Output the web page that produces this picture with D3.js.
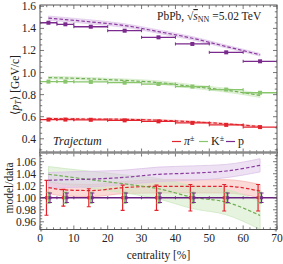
<!DOCTYPE html>
<html><head><meta charset="utf-8">
<script src="https://cdn.jsdelivr.net/npm/d3@7"></script>
<style>body{margin:0;background:#fff}svg{display:block}text{font-family:"Liberation Serif","DejaVu Serif",serif;fill:#222}</style>
</head><body><svg id="c" width="283" height="264"></svg>
<script>
// ---- data ----
const binLo = [0, 5, 10, 20, 30, 40, 50, 60];
const binHi = [5, 10, 20, 30, 40, 50, 60, 70];
const centers = [2.5, 7.5, 15, 25, 35, 45, 55, 65];
const pionData   = [0.574, 0.574, 0.572, 0.567, 0.558, 0.544, 0.526, 0.506];
const kaonData   = [0.918, 0.918, 0.915, 0.908, 0.896, 0.873, 0.846, 0.817];
const protonData = [1.451, 1.437, 1.415, 1.379, 1.319, 1.259, 1.183, 1.102];
const pionRatio   = [1.017, 1.013, 1.012, 1.017, 1.019, 1.019, 1.019, 1.011];
const kaonRatio   = [1.039, 1.0355, 1.030, 1.023, 1.015, 1.001, 0.9927, 0.9705];
const protonRatio = [1.029, 1.030, 1.031, 1.034, 1.039, 1.041, 1.0445, 1.054];
const pionBand   = [0.010, 0.010, 0.010, 0.010, 0.011, 0.011, 0.011, 0.011];
const kaonBand   = [0.013, 0.013, 0.014, 0.015, 0.017, 0.019, 0.021, 0.023];
const protonBand = [0.013, 0.013, 0.013, 0.012, 0.012, 0.012, 0.011, 0.011];
const pionErr   = [0.029, 0.014, 0.015, 0.021, 0.021, 0.022, 0.022, 0.022];
const kaonErr   = [0.009, 0.009, 0.009, 0.009, 0.009, 0.009, 0.009, 0.009];
const protonErr = [0.008, 0.008, 0.008, 0.008, 0.008, 0.008, 0.008, 0.008];
const xTicks = [0, 10, 20, 30, 40, 50, 60, 70];
const yTopTicks = [0.4, 0.6, 0.8, 1.0, 1.2, 1.4, 1.6];
const yBotTicks = [0.96, 0.98, 1.00, 1.02, 1.04, 1.06];
const seriesNames = ["π", "K", "p"];
const seriesSup = ["±", "±", ""];

const species = [
  {name: seriesNames[0], sup: seriesSup[0], data: pionData, ratio: pionRatio, band: pionBand, err: pionErr,
   col: "#e3232c", bandCol: "#f5b4b0", dash: "#e02530", dx: -2},
  {name: seriesNames[1], sup: seriesSup[1], data: kaonData, ratio: kaonRatio, band: kaonBand, err: kaonErr,
   col: "#88c56c", bandCol: "#cde8c0", dash: "#6fae52", dx: 0},
  {name: seriesNames[2], sup: seriesSup[2], data: protonData, ratio: protonRatio, band: protonBand, err: protonErr,
   col: "#7a2a8c", bandCol: "#dcc3e7", dash: "#8a3a9e", dx: 1.5}
];

const svg = d3.select("#c");
const L = 40, R = 277, T1 = 5, B1 = 152.5, T2 = 152.5, B2 = 229.5;
const x = d3.scaleLinear().domain([0, 70]).range([L, R]);
const yT = d3.scaleLinear().domain([0.4, 1.6]).range([138.8, 6.3]);
const yB = d3.scaleLinear().domain([0.96, 1.06]).range([221.8, 161.7]);

const defs = svg.append("defs");
defs.append("clipPath").attr("id", "cpT").append("rect").attr("x", L).attr("y", T1).attr("width", R - L).attr("height", B1 - T1);
defs.append("clipPath").attr("id", "cpB").append("rect").attr("x", L).attr("y", T2).attr("width", R - L).attr("height", B2 - T2);

const gT = svg.append("g").attr("clip-path", "url(#cpT)");
const gB = svg.append("g").attr("clip-path", "url(#cpB)");
const idx = d3.range(centers.length);
const curve = d3.curveMonotoneX;

// ---- top panel: model bands + dashed lines ----
species.forEach(s => {
  const area = d3.area().curve(curve).x(i => x(centers[i]))
    .y0(i => yT(s.data[i] * (s.ratio[i] - s.band[i])))
    .y1(i => yT(s.data[i] * (s.ratio[i] + s.band[i])));
  gT.append("path").attr("d", area(idx)).attr("fill", s.bandCol).attr("fill-opacity", 0.6)
    .attr("stroke", s.bandCol).attr("stroke-width", 0.6);
  const line = d3.line().curve(curve).x(i => x(centers[i])).y(i => yT(s.data[i] * s.ratio[i]));
  gT.append("path").attr("d", line(idx)).attr("fill", "none").attr("stroke", s.dash)
    .attr("stroke-width", 1.2).attr("stroke-dasharray", "3.5,2");
});
// data points
species.forEach(s => {
  idx.forEach(i => {
    const yy = yT(s.data[i]);
    gT.append("line").attr("x1", x(binLo[i])).attr("x2", x(binHi[i])).attr("y1", yy).attr("y2", yy)
      .attr("stroke", s.col).attr("stroke-width", 1.3);
    [binLo[i], binHi[i]].forEach(b => gT.append("line").attr("x1", x(b)).attr("x2", x(b))
      .attr("y1", yy - 1.5).attr("y2", yy + 1.5).attr("stroke", s.col).attr("stroke-width", 1));
    gT.append("rect").attr("x", x(centers[i]) - 2).attr("y", yy - 2).attr("width", 4).attr("height", 4).attr("fill", s.col);
  });
});

// ---- bottom panel ----
species.forEach(s => {
  const area = d3.area().curve(curve).x(i => x(centers[i]))
    .y0(i => yB(s.ratio[i] - s.band[i])).y1(i => yB(s.ratio[i] + s.band[i]));
  gB.append("path").attr("d", area(idx)).attr("fill", s.bandCol).attr("fill-opacity", 0.5)
    .attr("stroke", s.bandCol).attr("stroke-width", 0.8);
});
species.forEach(s => {
  const line = d3.line().curve(curve).x(i => x(centers[i])).y(i => yB(s.ratio[i]));
  gB.append("path").attr("d", line(idx)).attr("fill", "none").attr("stroke", s.dash)
    .attr("stroke-width", 1.2).attr("stroke-dasharray", "3.5,2");
});
// unity line with bin edge caps
gB.append("line").attr("x1", x(0)).attr("x2", x(70)).attr("y1", yB(1)).attr("y2", yB(1))
  .attr("stroke", "#6a2080").attr("stroke-width", 1.4);
binLo.concat([70]).forEach(b => gB.append("line").attr("x1", x(b)).attr("x2", x(b))
  .attr("y1", yB(1) - 1.5).attr("y2", yB(1) + 1.5).attr("stroke", "#7a2a8c").attr("stroke-width", 1));
// ratio error bars
species.forEach(s => {
  idx.forEach(i => {
    const xx = x(centers[i]) + s.dx;
    const y1 = yB(1 + s.err[i]), y2 = yB(1 - s.err[i]);
    gB.append("line").attr("x1", xx).attr("x2", xx).attr("y1", y1).attr("y2", y2).attr("stroke", s.col).attr("stroke-width", 1.2);
    [y1, y2].forEach(yy => gB.append("line").attr("x1", xx - 2).attr("x2", xx + 2).attr("y1", yy).attr("y2", yy)
      .attr("stroke", s.col).attr("stroke-width", 1.1));
    gB.append("rect").attr("x", xx - 1.5).attr("y", yB(1) - 1.5).attr("width", 3).attr("height", 3).attr("fill", s.col);
  });
});

// ---- frames & ticks ----
const frameCol = "#555";
function frame(t, b) {
  svg.append("rect").attr("x", L).attr("y", t).attr("width", R - L).attr("height", b - t)
    .attr("fill", "none").attr("stroke", frameCol).attr("stroke-width", 1);
}
frame(T1, B1); frame(T2, B2);
function xTicksAt(yy, dir) {
  d3.range(0, 70.01, 2).forEach(v => {
    const major = v % 10 === 0;
    const len = major ? 4 : 2.2;
    svg.append("line").attr("x1", x(v)).attr("x2", x(v)).attr("y1", yy).attr("y2", yy + dir * len)
      .attr("stroke", frameCol).attr("stroke-width", 0.8);
  });
}
xTicksAt(T1, 1); xTicksAt(B1, -1); xTicksAt(T2, 1); xTicksAt(B2, -1);
function yTicksAt(scale, lo, hi, step, majorStep) {
  const n = Math.round((hi - lo) / step);
  for (let k = 0; k <= n; k++) {
    const v = lo + k * step;
    const yy = scale(v);
    const major = Math.abs(v / majorStep - Math.round(v / majorStep)) < 1e-6;
    const len = major ? 4 : 2.2;
    svg.append("line").attr("x1", L).attr("x2", L + len).attr("y1", yy).attr("y2", yy).attr("stroke", frameCol).attr("stroke-width", 0.8);
    svg.append("line").attr("x1", R).attr("x2", R - len).attr("y1", yy).attr("y2", yy).attr("stroke", frameCol).attr("stroke-width", 0.8);
  }
}
yTicksAt(yT, 0.3, 1.6, 0.05, 0.2);
yTicksAt(yB, 0.945, 1.07, 0.005, 0.02);
// separator
svg.append("line").attr("x1", L).attr("x2", R).attr("y1", B1).attr("y2", B1).attr("stroke", "#8a8a8a").attr("stroke-width", 2.4);

// tick labels
const fs = 11.5;
yTopTicks.forEach(v => svg.append("text").attr("x", 36).attr("y", yT(v) + 4).attr("text-anchor", "end")
  .attr("font-size", fs).text(v.toFixed(1)));
yBotTicks.forEach(v => svg.append("text").attr("x", 36).attr("y", yB(v) + 4).attr("text-anchor", "end")
  .attr("font-size", fs).text(v.toFixed(2)));
xTicks.forEach(v => svg.append("text").attr("x", x(v)).attr("y", 242).attr("text-anchor", "middle")
  .attr("font-size", fs).text(v));

// axis titles
svg.append("text").attr("x", x(35)).attr("y", 259).attr("text-anchor", "middle").attr("font-size", fs)
  .text("centrality [%]");
const yl = svg.append("text").attr("transform", "translate(19,85) rotate(-90)").attr("text-anchor", "middle").attr("font-size", fs);
yl.append("tspan").text("⟨");
yl.append("tspan").attr("font-style", "italic").text("p");
yl.append("tspan").attr("font-style", "italic").attr("font-size", 8).attr("dy", 2).text("T");
yl.append("tspan").attr("dy", -2).text("⟩ [GeV/c]");
svg.append("text").attr("transform", "translate(13,188) rotate(-90)").attr("text-anchor", "middle").attr("font-size", fs)
  .text("model/data");

// annotations
const ann = svg.append("text").attr("x", 157).attr("y", 20).attr("font-size", 11.5);
ann.append("tspan").text("PbPb, √");
ann.append("tspan").attr("font-style", "italic").attr("text-decoration", "overline").text("s");
ann.append("tspan").attr("font-size", 8).attr("dy", 2).text("NN");
ann.append("tspan").attr("dy", -2).text(" =5.02 TeV");
svg.append("text").attr("x", 53).attr("y", 145).attr("font-size", 12).attr("font-style", "italic").text("Trajectum");

// legend
const legX = [172, 199, 226];
species.forEach((s, k) => {
  svg.append("line").attr("x1", legX[k]).attr("x2", legX[k] + 9).attr("y1", 141.5).attr("y2", 141.5)
    .attr("stroke", s.col).attr("stroke-width", 1.2);
  const t = svg.append("text").attr("x", legX[k] + 12).attr("y", 145).attr("font-size", 12);
  t.append("tspan").attr("font-style", k === 0 ? "italic" : "normal").text(s.name);
  if (s.sup) t.append("tspan").attr("font-size", 8).attr("dy", -4).text(s.sup);
});
</script></body></html>
